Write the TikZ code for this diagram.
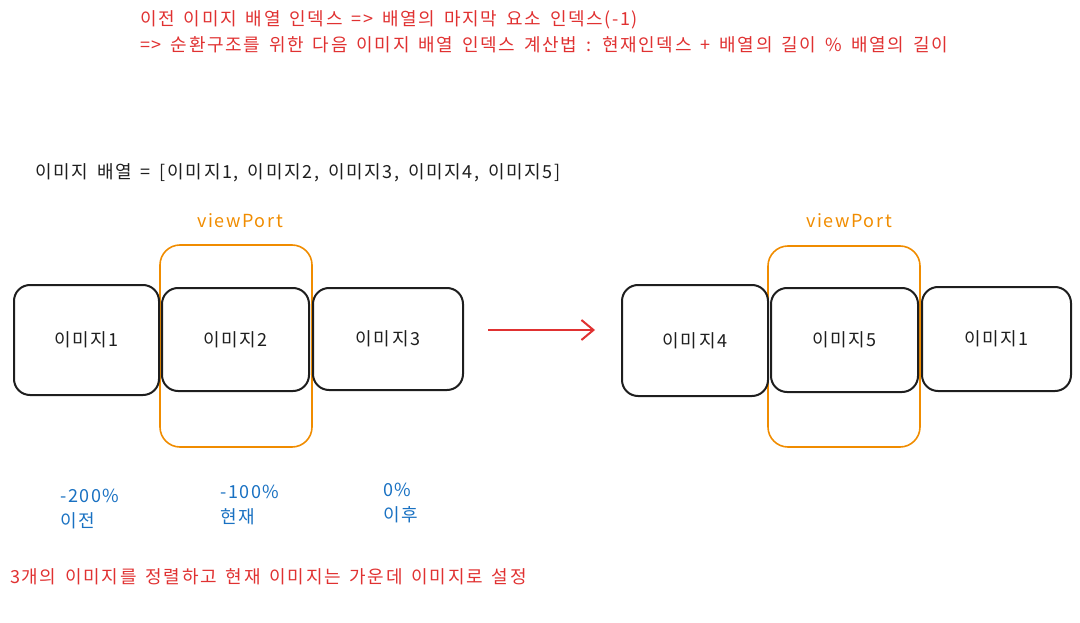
\documentclass[tikz,border=0pt]{standalone}
\usepackage{fontspec}
\setmainfont[LetterSpace=9,WordSpace=1.6]{Noto Sans CJK KR}
\usepackage{tikz}
\usetikzlibrary{arrows.meta}
\definecolor{exred}{HTML}{E03131}
\definecolor{exorange}{HTML}{F08C00}
\definecolor{exblue}{HTML}{1971C2}
\definecolor{exblack}{HTML}{1E1E1E}
\begin{document}
\begin{tikzpicture}[x=1pt,y=-1pt,
imgbox/.style={draw=exblack,line width=2pt,rounded corners=16pt,text=exblack,font=\fontsize{18}{20}\selectfont},
viewbox/.style={draw=exorange,line width=1.6pt,rounded corners=20pt},
vplabel/.style={text=exorange,font=\fontsize{18}{20}\selectfont},
note/.style={text=exred,font=\fontsize{18}{26}\selectfont,align=left,inner sep=0pt},
poslabel/.style={text=exblue,font=\fontsize{18}{25}\selectfont,align=left,inner sep=0pt,anchor=west}]
\useasboundingbox (0,0) rectangle (1080,623);
\node[note,anchor=west] (title) at (140,32) {이전 이미지 배열 인덱스 => 배열의 마지막 요소 인덱스(-1)\\=> 순환구조를 위한 다음 이미지 배열 인덱스 계산법 : 현재인덱스 + 배열의 길이 \% 배열의 길이};
\node[anchor=west,inner sep=0pt,text=exblack,font=\fontsize{18}{20}\selectfont] (arr) at (35,173) {이미지 배열 = [이미지1, 이미지2, 이미지3, 이미지4, 이미지5]};
\node[viewbox,minimum width=152pt,minimum height=202pt] (vpA) at (236,346) {};
\node[vplabel] (vpAl) at (240,221) {viewPort};
\node[imgbox,minimum width=145pt,minimum height=110pt] (imgA1) at (86.5,340) {이미지1};
\node[imgbox,minimum width=147pt,minimum height=103pt] (imgA2) at (235.5,339.5) {이미지2};
\node[imgbox,minimum width=150pt,minimum height=102pt] (imgA3) at (388,339) {이미지3};
\node[viewbox,minimum width=152pt,minimum height=201pt] (vpB) at (844,346.5) {};
\node[vplabel] (vpBl) at (849,221) {viewPort};
\node[imgbox,minimum width=146pt,minimum height=111pt] (imgB4) at (695,340.5) {이미지4};
\node[imgbox,minimum width=147pt,minimum height=104pt] (imgB5) at (844.5,340) {이미지5};
\node[imgbox,minimum width=149pt,minimum height=104pt] (imgB1) at (996.5,339) {이미지1};
\coordinate (arrS) at (488,330);
\coordinate (arrE) at (595,330);
\draw[exred,line width=2pt,-{Straight Barb[length=12pt,width=20pt,line width=2pt]}] (arrS) -- (arrE);
\node[poslabel] (prev) at (60,509) {-200\%\\이전};
\node[poslabel] (cur) at (220,505) {-100\%\\현재};
\node[poslabel] (next) at (383,503) {0\%\\이후};
\node[note,anchor=west] (summary) at (10,577) {3개의 이미지를 정렬하고 현재 이미지는 가운데 이미지로 설정};
\end{tikzpicture}
\end{document}
